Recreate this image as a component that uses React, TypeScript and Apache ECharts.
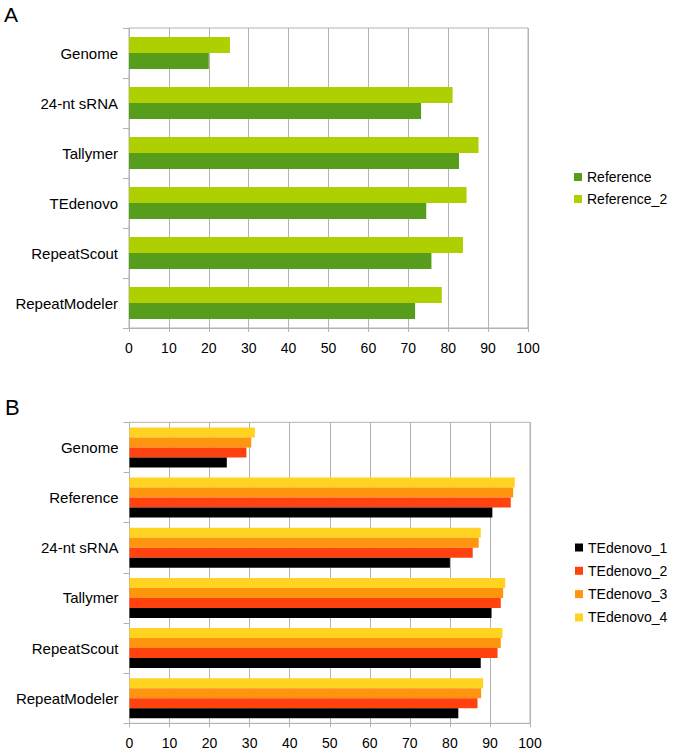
import React, { useEffect, useRef } from "react";
import * as echarts from "echarts";

// Panel A
const categoriesA = ["Genome", "24-nt sRNA", "Tallymer", "TEdenovo", "RepeatScout", "RepeatModeler"];
const reference = [20.0, 73.2, 82.7, 74.5, 75.8, 71.7];
const reference2 = [25.3, 81.1, 87.6, 84.6, 83.7, 78.4];

// Panel B
const categoriesB = ["Genome", "Reference", "24-nt sRNA", "Tallymer", "RepeatScout", "RepeatModeler"];
const tedenovo1 = [24.3, 90.6, 80.0, 90.4, 87.7, 82.1];
const tedenovo2 = [29.2, 95.2, 85.7, 92.7, 91.9, 86.9];
const tedenovo3 = [30.4, 95.8, 87.2, 93.3, 92.7, 87.8];
const tedenovo4 = [31.3, 96.2, 87.7, 93.8, 93.1, 88.3];

const xTicks = { min: 0, max: 100, interval: 10 };

const FONT = "Liberation Sans, Arial, sans-serif";
const GRAY = "#b3b3b3";

function valueAxis(gridIndex: number) {
  return {
    type: "value",
    gridIndex,
    min: xTicks.min,
    max: xTicks.max,
    interval: xTicks.interval,
    axisLine: { show: true, lineStyle: { color: GRAY, width: 1 } },
    axisTick: { show: true, length: 4, lineStyle: { color: GRAY } },
    splitLine: { show: true, lineStyle: { color: GRAY, width: 1 } },
    axisLabel: { color: "#000", fontSize: 14, fontFamily: FONT, margin: 13 },
  };
}

function categoryAxis(gridIndex: number, data: string[]) {
  return {
    type: "category",
    gridIndex,
    data,
    inverse: true,
    axisLine: { show: true, lineStyle: { color: GRAY, width: 1 } },
    axisTick: { show: true, length: 6, lineStyle: { color: GRAY } },
    splitLine: { show: false },
    axisLabel: { color: "#000", fontSize: 15, fontFamily: FONT, margin: 11 },
  };
}

export default function App() {
  const ref = useRef<HTMLDivElement>(null);
  useEffect(() => {
    if (!ref.current) return;
    const chart = echarts.init(ref.current, undefined, { renderer: "svg" });
    const barA = (name: string, data: number[], color: string) => ({
      name,
      type: "bar",
      xAxisIndex: 0,
      yAxisIndex: 0,
      data,
      barWidth: 16,
      barGap: "0%",
      itemStyle: { color },
    });
    const barB = (name: string, data: number[], color: string) => ({
      name,
      type: "bar",
      xAxisIndex: 1,
      yAxisIndex: 1,
      data,
      barWidth: 10,
      barGap: "0%",
      itemStyle: { color },
    });
    chart.setOption({
      animation: false,
      backgroundColor: "#ffffff",
      grid: [
        { left: 129, top: 28, width: 399, height: 300, show: true, borderColor: GRAY, borderWidth: 1, containLabel: false },
        { left: 129.5, top: 422.3, width: 400.5, height: 301, show: true, borderColor: GRAY, borderWidth: 1, containLabel: false },
      ],
      xAxis: [valueAxis(0), valueAxis(1)],
      yAxis: [categoryAxis(0, categoriesA), categoryAxis(1, categoriesB)],
      legend: [
        {
          orient: "vertical",
          left: 569,
          top: 165,
          itemWidth: 8,
          itemHeight: 8,
          itemGap: 8,
          icon: "rect",
          data: ["Reference", "Reference_2"],
          textStyle: { color: "#000", fontSize: 14, lineHeight: 14, fontFamily: FONT },
        },
        {
          orient: "vertical",
          left: 570,
          top: 535.5,
          itemWidth: 8,
          itemHeight: 8,
          itemGap: 9.3,
          icon: "rect",
          data: ["TEdenovo_1", "TEdenovo_2", "TEdenovo_3", "TEdenovo_4"],
          textStyle: { color: "#000", fontSize: 14, lineHeight: 14, fontFamily: FONT },
        },
      ],
      graphic: [
        { type: "text", left: 4, top: 4, style: { text: "A", fontSize: 21, fontFamily: FONT, fill: "#000" } },
        { type: "text", left: 5, top: 396, style: { text: "B", fontSize: 22, fontFamily: FONT, fill: "#000" } },
      ],
      series: [
        barA("Reference_2", reference2, "#aecf00"),
        barA("Reference", reference, "#579d1c"),
        barB("TEdenovo_4", tedenovo4, "#ffd320"),
        barB("TEdenovo_3", tedenovo3, "#ff950e"),
        barB("TEdenovo_2", tedenovo2, "#ff420e"),
        barB("TEdenovo_1", tedenovo1, "#000000"),
      ],
    });
    return () => chart.dispose();
  }, []);
  return (
    <div
      ref={ref}
      style={{ position: "fixed", left: 0, top: 0, width: 674, height: 754, background: "#fff" }}
    />
  );
}
